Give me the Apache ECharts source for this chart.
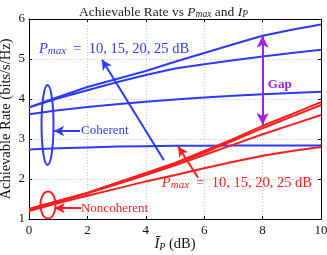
<!DOCTYPE html>
<html><head><meta charset="utf-8">
<script src="https://cdn.jsdelivr.net/npm/echarts@6/dist/echarts.min.js"></script>
<style>html,body{margin:0;padding:0;background:#fff}#c{width:327px;height:255px}</style>
</head><body><div id="c"></div>
<script>
var xVals = [0,1,2,3,4,5,6,7,8,9,10];
var xTicks = [0,2,4,6,8,10];
var yTicks = [1,2,3,4,5,6];
// Coherent (blue)
var coh10 = [2.74,2.77,2.79,2.81,2.82,2.83,2.83,2.84,2.84,2.84,2.84];
var coh15 = [3.62,3.72,3.80,3.87,3.93,3.99,4.04,4.08,4.12,4.15,4.18];
var coh20 = [3.79,4.02,4.22,4.42,4.60,4.76,4.87,4.97,5.06,5.15,5.23];
var coh25 = [3.79,4.05,4.30,4.50,4.70,4.93,5.15,5.37,5.58,5.73,5.86];
// Noncoherent (red)
var non10 = [1.20,1.40,1.58,1.76,1.94,2.10,2.27,2.43,2.58,2.70,2.80];
var non15 = [1.24,1.44,1.64,1.87,2.10,2.34,2.60,2.86,3.12,3.36,3.60];
var non20 = [1.25,1.45,1.65,1.90,2.14,2.38,2.66,2.96,3.27,3.56,3.85];
var non25 = [1.25,1.45,1.65,1.90,2.15,2.40,2.70,3.00,3.33,3.62,3.92];

var BLUE = '#2b3aff', RED = '#ff1c1c', PURPLE = '#a020f0';
var FONT = '"Liberation Serif","Times New Roman",serif';

function pairs(ys){ return xVals.map(function(x,i){return [x, ys[i]];}); }
function lineSeries(ys, color){
  return {type:'line', data:pairs(ys), showSymbol:false, smooth:false, silent:true,
    lineStyle:{color:color, width:2}, itemStyle:{color:color}, z:3};
}
function arrowSeries(color, lines, sym, size){
  return {type:'line', data:[], silent:true,
    markLine:{silent:true, symbol:sym, symbolSize:size||[8,10], animation:false,
      label:{show:false}, lineStyle:{color:color, width:2, type:'solid'},
      emphasis:{disabled:true},
      data: lines.map(function(l){return [{coord:l[0]},{coord:l[1]}];})}};
}

var chart = echarts.init(document.getElementById('c'), null, {renderer:'canvas'});
var axLine = {show:true, onZero:false, lineStyle:{color:'#000', width:1}};
var axTick = {show:true, inside:true, length:3, lineStyle:{color:'#000'}};
chart.setOption({
  animation:false,
  title:{text:'{n|Achievable Rate vs }{i|P}{s|max}{n| and }{i|I}{s|P}', left:'center', top:0,
    textStyle:{fontWeight:'normal', rich:{
      n:{fontFamily:FONT, fontSize:13.5, fontWeight:'normal', color:'#222'},
      i:{fontFamily:FONT, fontSize:13.5, fontWeight:'normal', fontStyle:'italic', color:'#222'},
      s:{fontFamily:FONT, fontSize:9.5, fontWeight:'normal', fontStyle:'italic', color:'#222', verticalAlign:'bottom', padding:[4,0,0,0]}
    }}},
  grid:{left:29, right:6, top:19, bottom:36, containLabel:false, outerBoundsMode:'none'},
  xAxis:[
    {type:'value', min:0, max:10, interval:2, position:'bottom',
      axisLine:axLine, axisTick:axTick,
      axisLabel:{fontFamily:FONT, fontSize:13, color:'#111', margin:5,
        formatter:function(v){return xTicks.indexOf(v)>=0?String(v):'';}},
      splitLine:{show:true, lineStyle:{color:'#c4c4c4', type:[1,2]}},
      name:'{b|Ī}{s|P}{n| (dB)}', nameLocation:'middle', nameGap:18, nameMoveOverlap:false,
      nameTextStyle:{rich:{
        b:{fontFamily:FONT, fontSize:14.5, fontStyle:'italic', color:'#111'},
        s:{fontFamily:FONT, fontSize:10, fontStyle:'italic', color:'#111', verticalAlign:'bottom', padding:[4,0,0,0]},
        n:{fontFamily:FONT, fontSize:14.5, color:'#111'}
      }}},
    {type:'value', min:0, max:10, interval:2, position:'top', axisLabel:{show:false},
      axisLine:axLine, axisTick:axTick, splitLine:{show:false}}
  ],
  yAxis:[
    {type:'value', min:1, max:6, interval:1, position:'left',
      axisLabel:{fontFamily:FONT, fontSize:13, color:'#111', margin:4,
        formatter:function(v){return yTicks.indexOf(v)>=0?String(v):'';}},
      axisLine:axLine, axisTick:axTick,
      splitLine:{show:true, lineStyle:{color:'#c4c4c4', type:[1,2]}},
      name:'Achievable Rate (bits/s/Hz)', nameLocation:'middle', nameGap:15, nameMoveOverlap:false,
      nameTextStyle:{fontFamily:FONT, fontSize:14.5, color:'#111'}},
    {type:'value', min:1, max:6, interval:1, position:'right', axisLabel:{show:false},
      axisLine:axLine, axisTick:axTick, splitLine:{show:false}}
  ],
  series:[
    lineSeries(coh10, BLUE), lineSeries(coh15, BLUE), lineSeries(coh20, BLUE), lineSeries(coh25, BLUE),
    lineSeries(non10, RED), lineSeries(non15, RED), lineSeries(non20, RED), lineSeries(non25, RED),
    arrowSeries(BLUE, [[[4.62,2.47],[2.5,4.98]], [[1.75,3.2],[0.86,3.2]]], ['none','arrow']),
    arrowSeries(RED, [[[5.79,2.03],[5.11,2.81]], [[1.78,1.27],[0.88,1.27]]], ['none','arrow']),
    arrowSeries(PURPLE, [[[8,4.45],[8,5.58]], [[8,4.45],[8,3.35]]], ['none','arrow'], [9,12])
  ]
});

function px(x,y){ return chart.convertToPixel({xAxisIndex:0, yAxisIndex:0}, [x,y]); }
var bc = px(0.634, 3.35), bE = px(0.634+0.205, 3.35-1.0);
var rc = px(0.65, 1.35), rE = px(0.65+0.26, 1.35-0.34);
var tBlue = px(0.34, 5.25), tRed = px(4.55, 1.9), tCoh = px(1.78, 3.2), tNon = px(1.78, 1.27), tGap = px(8.18, 4.37);
function pmaxText(pos, color){
  return {type:'text', x:pos[0], y:pos[1], z:10, style:{
    text:'{i|P}{s|max}{n|  =  10, 15, 20, 25 dB}', verticalAlign:'middle', align:'left',
    rich:{
      i:{fontFamily:FONT, fontSize:14.5, fontStyle:'italic', fill:color},
      s:{fontFamily:FONT, fontSize:11, fontStyle:'italic', fill:color, verticalAlign:'bottom', padding:[4,0,0,0]},
      n:{fontFamily:FONT, fontSize:14.5, fill:color}
    }}};
}
chart.setOption({graphic:[
  {type:'ellipse', shape:{cx:bc[0], cy:bc[1], rx:bE[0]-bc[0], ry:bE[1]-bc[1]}, style:{fill:'none', stroke:BLUE, lineWidth:2}, z:10},
  {type:'ellipse', shape:{cx:rc[0], cy:rc[1], rx:rE[0]-rc[0], ry:rE[1]-rc[1]}, style:{fill:'none', stroke:RED, lineWidth:2}, z:10},
  pmaxText(tBlue, BLUE), pmaxText(tRed, RED),
  {type:'text', x:tCoh[0], y:tCoh[1], z:10, style:{text:'Coherent', fontFamily:FONT, fontSize:13, fill:BLUE, verticalAlign:'middle'}},
  {type:'text', x:tNon[0], y:tNon[1], z:10, style:{text:'Noncoherent', fontFamily:FONT, fontSize:13, fill:RED, verticalAlign:'middle'}},
  {type:'text', x:tGap[0], y:tGap[1], z:10, style:{text:'Gap', fontFamily:FONT, fontSize:13, fontWeight:'bold', fill:PURPLE, verticalAlign:'middle'}}
]});
</script></body></html>
